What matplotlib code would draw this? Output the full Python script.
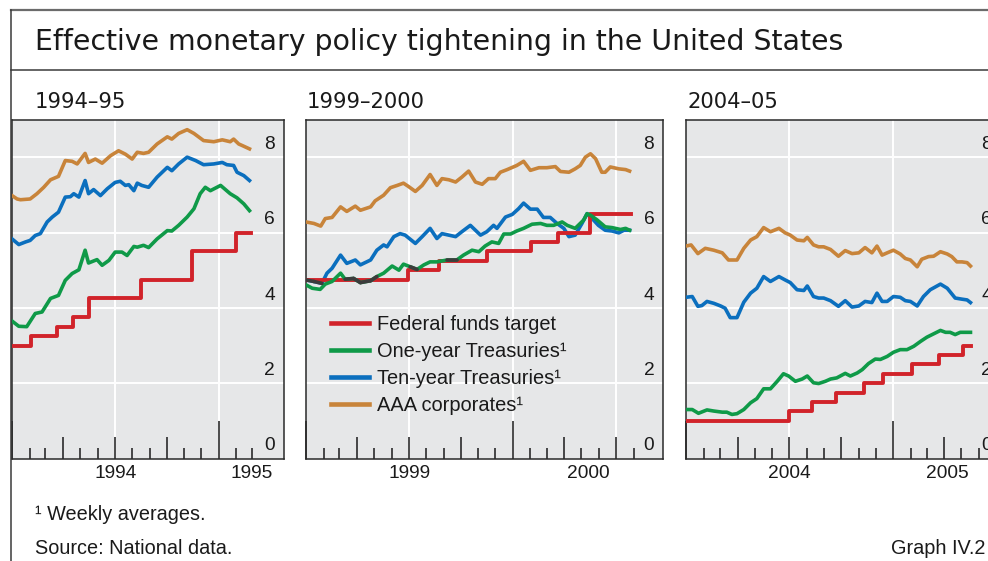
import numpy as np
import matplotlib
matplotlib.use('Agg')
import matplotlib.pyplot as plt
from matplotlib.lines import Line2D
import matplotlib.transforms as mtransforms

plt.rcParams['font.family'] = ['Liberation Sans', 'DejaVu Sans']

# ---------------- data (days since 1 January of the panel's first year) -------------
# Panel 1994-95
p1_aaa_days = [0, 9, 15, 32, 44, 56, 68, 82, 94, 106, 115, 129, 135, 147, 159, 174, 188, 200, 212,
               221, 232, 241, 256, 274, 282, 294, 309, 321, 338, 356, 371, 385, 391, 400, 406, 419]
p1_aaa = [6.98, 6.89, 6.87, 6.89, 7.03, 7.2, 7.4, 7.49, 7.91, 7.89, 7.82, 8.1, 7.86, 7.95, 7.84, 8.04,
          8.17, 8.08, 7.95, 8.13, 8.1, 8.13, 8.35, 8.54, 8.48, 8.63, 8.73, 8.63, 8.44, 8.41, 8.46,
          8.41, 8.48, 8.35, 8.31, 8.22]
p1_ten_days = [0, 12, 24, 32, 41, 50, 62, 71, 82, 94, 103, 109, 118, 129, 135, 144, 156, 168, 182,
               191, 200, 206, 215, 221, 229, 241, 256, 274, 282, 294, 309, 324, 338, 356, 371, 379,
               391, 397, 409, 419]
p1_ten = [5.83, 5.68, 5.75, 5.79, 5.92, 5.97, 6.28, 6.41, 6.54, 6.94, 6.95, 7.03, 6.94, 7.38, 7.03,
          7.14, 6.98, 7.16, 7.33, 7.36, 7.25, 7.27, 7.11, 7.31, 7.25, 7.2, 7.47, 7.73, 7.64, 7.82,
          8.0, 7.91, 7.8, 7.82, 7.86, 7.8, 7.78, 7.6, 7.51, 7.38]
p1_one_days = [0, 12, 26, 41, 53, 68, 82, 94, 106, 118, 129, 135, 150, 159, 171, 182, 194, 203, 215,
               221, 232, 241, 256, 274, 282, 294, 309, 321, 332, 341, 350, 368, 385, 397, 409, 419]
p1_one = [3.65, 3.51, 3.5, 3.85, 3.89, 4.25, 4.33, 4.73, 4.91, 5.01, 5.53, 5.19, 5.28, 5.13, 5.26,
          5.48, 5.48, 5.39, 5.63, 5.61, 5.66, 5.6, 5.83, 6.05, 6.04, 6.19, 6.41, 6.63, 7.03, 7.2,
          7.11, 7.25, 7.03, 6.92, 6.76, 6.58]
p1_fed_days = [0, 34, 80, 107, 136, 227, 318, 396, 422]
p1_fed = [3.0, 3.25, 3.5, 3.75, 4.25, 4.75, 5.5, 6.0, 6.0]

# Panel 1999-2000
p2_aaa_days = [0, 14, 26, 34, 46, 61, 72, 87, 96, 114, 122, 137, 149, 161, 172, 181, 193, 205, 219,
               231, 240, 252, 264, 275, 287, 299, 311, 322, 334, 343, 355, 372, 384, 396, 411, 425,
               440, 449, 464, 475, 484, 493, 502, 511, 522, 528, 537, 552, 564, 571]
p2_aaa = [6.28, 6.24, 6.17, 6.37, 6.4, 6.68, 6.56, 6.7, 6.59, 6.68, 6.84, 6.99, 7.19, 7.25, 7.31,
          7.22, 7.09, 7.25, 7.54, 7.25, 7.43, 7.4, 7.34, 7.47, 7.63, 7.34, 7.28, 7.43, 7.43, 7.6,
          7.67, 7.78, 7.89, 7.65, 7.72, 7.72, 7.75, 7.62, 7.6, 7.69, 7.78, 8.0, 8.09, 7.96, 7.6,
          7.6, 7.74, 7.69, 7.67, 7.63]
p2_ten_days = [0, 14, 28, 37, 46, 61, 72, 87, 96, 114, 125, 137, 143, 155, 166, 175, 193, 205, 219,
               231, 240, 252, 264, 275, 290, 308, 319, 331, 337, 352, 364, 375, 384, 396, 408, 419,
               431, 443, 455, 464, 475, 487, 496, 505, 516, 528, 540, 552, 561, 571]
p2_ten = [4.74, 4.7, 4.65, 4.92, 5.05, 5.4, 5.18, 5.27, 5.14, 5.27, 5.53, 5.67, 5.62, 5.89, 5.97,
          5.93, 5.71, 5.89, 6.11, 5.84, 5.97, 5.93, 5.89, 6.02, 6.19, 5.93, 6.02, 6.19, 6.11, 6.41,
          6.48, 6.63, 6.78, 6.62, 6.62, 6.4, 6.4, 6.24, 6.11, 5.89, 5.93, 6.24, 6.5, 6.37, 6.19,
          6.06, 6.04, 5.99, 6.06, 6.06]
p2_one_days = [0, 11, 25, 34, 46, 61, 69, 84, 96, 114, 125, 137, 152, 164, 172, 184, 196, 208, 219,
               231, 249, 266, 278, 293, 305, 316, 328, 340, 349, 361, 372, 384, 399, 414, 425, 437,
               452, 461, 475, 490, 496, 502, 514, 528, 540, 555, 564, 571]
p2_one = [4.61, 4.52, 4.49, 4.63, 4.7, 4.92, 4.76, 4.78, 4.67, 4.72, 4.83, 4.92, 5.11, 5.0, 5.16,
          5.09, 5.02, 5.14, 5.22, 5.22, 5.27, 5.27, 5.4, 5.53, 5.49, 5.64, 5.75, 5.71, 5.96, 5.96,
          6.04, 6.11, 6.22, 6.24, 6.19, 6.19, 6.28, 6.19, 6.11, 6.33, 6.5, 6.46, 6.33, 6.15, 6.13,
          6.08, 6.11, 6.06]
p2_fed_days = [0, 180, 235, 319, 397, 445, 501, 573]
p2_fed = [4.75, 5.0, 5.25, 5.5, 5.75, 6.0, 6.5, 6.5]

# Panel 2004-05
p3_aaa_days = [0, 9, 21, 34, 49, 64, 75, 90, 102, 114, 125, 137, 149, 164, 175, 184, 196, 208, 214,
               225, 234, 243, 255, 269, 281, 293, 305, 316, 328, 337, 346, 355, 366, 378, 387, 396,
               408, 416, 428, 437, 449, 461, 469, 478, 487, 496, 502]
p3_aaa = [5.64, 5.67, 5.44, 5.58, 5.53, 5.46, 5.27, 5.27, 5.58, 5.8, 5.89, 6.13, 6.02, 6.11, 5.99,
          5.93, 5.8, 5.78, 5.87, 5.67, 5.62, 5.62, 5.55, 5.37, 5.52, 5.44, 5.46, 5.6, 5.46, 5.64,
          5.4, 5.46, 5.53, 5.43, 5.31, 5.27, 5.09, 5.29, 5.36, 5.37, 5.49, 5.43, 5.36, 5.22, 5.22,
          5.2, 5.11]
p3_ten_days = [0, 11, 21, 28, 37, 49, 61, 69, 78, 90, 102, 114, 125, 137, 149, 164, 175, 184, 196,
               208, 214, 225, 234, 243, 255, 269, 281, 293, 305, 316, 328, 337, 346, 355, 366, 378,
               387, 396, 408, 419, 431, 449, 461, 475, 487, 496, 502]
p3_ten = [4.28, 4.3, 4.04, 4.06, 4.17, 4.12, 4.05, 3.99, 3.74, 3.74, 4.15, 4.39, 4.52, 4.83, 4.7,
          4.83, 4.74, 4.67, 4.48, 4.46, 4.58, 4.3, 4.26, 4.26, 4.19, 4.04, 4.19, 4.02, 4.05, 4.17,
          4.14, 4.39, 4.17, 4.17, 4.3, 4.28, 4.19, 4.17, 4.05, 4.3, 4.48, 4.63, 4.52, 4.26, 4.23,
          4.21, 4.14]
p3_one_days = [0, 11, 22, 37, 49, 64, 72, 81, 90, 102, 114, 125, 137, 149, 161, 172, 181, 193, 205,
               214, 225, 234, 246, 255, 266, 281, 290, 302, 311, 322, 334, 343, 355, 366, 378, 390,
               402, 414, 425, 437, 449, 458, 466, 475, 484, 493, 502]
p3_one = [1.3, 1.3, 1.2, 1.29, 1.26, 1.23, 1.23, 1.17, 1.19, 1.3, 1.48, 1.59, 1.85, 1.85, 2.05,
          2.25, 2.19, 2.05, 2.11, 2.19, 2.01, 1.99, 2.05, 2.11, 2.14, 2.26, 2.19, 2.27, 2.36, 2.52,
          2.64, 2.63, 2.71, 2.82, 2.89, 2.89, 2.98, 3.11, 3.22, 3.31, 3.4, 3.35, 3.35, 3.29, 3.35,
          3.35, 3.35]
p3_fed_days = [0, 181, 222, 264, 314, 348, 398, 446, 488, 503]
p3_fed = [1.0, 1.25, 1.5, 1.75, 2.0, 2.25, 2.5, 2.75, 3.0, 3.0]

panel_titles = ['1994\u201395', '1999\u20132000', '2004\u201305']
panel_start_years = [1994, 1999, 2004]
panel_xmax = [479, 630, 555]          # axis extent in days (incl. room for y labels)
y_ticks = [0, 2, 4, 6, 8]
series_labels = ['Federal funds target', 'One-year Treasuries\u00b9',
                 'Ten-year Treasuries\u00b9', 'AAA corporates\u00b9']

title = 'Effective monetary policy tightening in the United States'
footnote = '\u00b9 Weekly averages.'
source = 'Source: National data.'
graph_id = 'Graph IV.2'

# ---------------- styling ----------------
RED = '#d1232a'
GREEN = '#0f9a48'
BLUE = '#0b6fbe'
ORANGE = '#c8843a'
OVERPRINT = '#3c3c3c'
BG = '#e6e7e8'
TXT = '#1a1a1a'
HEAD_FONT = ['DejaVu Sans']

W, H = 988, 561
fig = plt.figure(figsize=(W / 100, H / 100), dpi=100)

def px_axes(left, top, right, bottom):
    return fig.add_axes([left / W, 1 - bottom / H, (right - left) / W, (bottom - top) / H])

panel_boxes = [(12, 119.5, 283.5), (306, 119.5, 663), (686, 119.5, 686 + 555 * 0.5667)]
AX_BOTTOM = 458.5
YMAX = 9.0
px_per_unit = (AX_BOTTOM - 119.5) / YMAX

panel_data = [
    (p1_fed_days, p1_fed, p1_one_days, p1_one, p1_ten_days, p1_ten, p1_aaa_days, p1_aaa),
    (p2_fed_days, p2_fed, p2_one_days, p2_one, p2_ten_days, p2_ten, p2_aaa_days, p2_aaa),
    (p3_fed_days, p3_fed, p3_one_days, p3_one, p3_ten_days, p3_ten, p3_aaa_days, p3_aaa),
]

def fed_at(fed_d, fed_v, days):
    idx = np.searchsorted(np.asarray(fed_d), np.asarray(days), side='right') - 1
    idx = np.clip(idx, 0, len(fed_v) - 1)
    return np.asarray(fed_v)[idx]

def overprint(ax, d, v, fed_d, fed_v, z):
    # where a series sits on top of the red step line the print shows a dark line
    d = np.asarray(d, float)
    v = np.asarray(v, float)
    near = np.abs(v - fed_at(fed_d, fed_v, d)) <= 0.105
    for k in range(len(d) - 1):
        if near[k] and near[k + 1]:
            ax.plot(d[k:k + 2], v[k:k + 2], color=OVERPRINT, lw=2.6, zorder=z,
                    solid_capstyle='round')

handles = []
for i, (box, data) in enumerate(zip(panel_boxes, panel_data)):
    left, top, right = box
    ax = px_axes(left, top, right, AX_BOTTOM)
    ax.set_facecolor(BG)
    xmax = panel_xmax[i]
    ax.set_xlim(0, xmax)
    ax.set_ylim(0, YMAX)
    ax.set_xticks([])
    ax.set_yticks([])
    for sp in ax.spines.values():
        sp.set_color('#2a2a2a')
        sp.set_linewidth(1.1)

    y0 = panel_start_years[i]
    start = np.datetime64(f'{y0}-01-01')
    fed_d, fed_v, one_d, one_v, ten_d, ten_v, aaa_d, aaa_v = data
    data_end = max(fed_d)

    for v in y_ticks[1:]:
        ax.axhline(v, color='white', lw=1.4, zorder=1)
    m = 0
    while True:
        d = np.datetime64(f'{y0}-01', 'M') + m
        day = int((d.astype('datetime64[D]') - start).astype(int))
        if day > data_end + 31:
            break
        month = int(str(d)[5:7])
        if month in (1, 7) and day > 0:
            ax.axvline(day, color='white', lw=1.4, zorder=1)
        if month == 1:
            hpx = 38
        elif month in (4, 7, 10):
            hpx = 22
        else:
            hpx = 11
        ax.plot([day, day], [0, hpx / px_per_unit], color='#1a1a1a', lw=1.1,
                solid_capstyle='butt', zorder=2, clip_on=False)
        m += 1

    l_aaa, = ax.plot(aaa_d, aaa_v, color=ORANGE, lw=2.6, zorder=3, solid_joinstyle='round')
    l_ten, = ax.plot(ten_d, ten_v, color=BLUE, lw=2.6, zorder=4, solid_joinstyle='round')
    l_fed, = ax.step(fed_d, fed_v, where='post', color=RED, lw=2.8, zorder=5)
    l_one, = ax.plot(one_d, one_v, color=GREEN, lw=2.6, zorder=6, solid_joinstyle='round')
    overprint(ax, ten_d, ten_v, fed_d, fed_v, 7)
    overprint(ax, one_d, one_v, fed_d, fed_v, 7)
    if i == 1:
        handles = [l_fed, l_one, l_ten, l_aaa]

    bt = mtransforms.blended_transform_factory(ax.transAxes, ax.transData)
    ot = mtransforms.offset_copy(bt, fig=fig, x=-14, y=8, units='dots')
    for v in y_ticks:
        ax.text(1.0, v, str(v), transform=ot, ha='center', va='baseline',
                fontsize=13.8, color=TXT, clip_on=False)

    yr_end = int((np.datetime64(f'{y0 + 1}-01-01') - start).astype(int))
    for lab, (a, b) in zip([str(y0), str(y0 + 1)], [(0, yr_end), (yr_end, xmax)]):
        xc = (a + b) / 2
        ax.text(xc, 0, lab, transform=mtransforms.offset_copy(
            mtransforms.blended_transform_factory(ax.transData, ax.transAxes),
            fig=fig, x=0, y=-20, units='dots'),
            ha='center', va='baseline', fontsize=13.8, color=TXT, clip_on=False)

    fig.text((left + 23) / W if i == 0 else (left + 1) / W, 1 - 108 / H, panel_titles[i],
             fontsize=15.2, color=TXT, va='baseline', ha='left', family=HEAD_FONT)

    if i == 1:
        leg = ax.legend(handles, series_labels, loc='upper left',
                        bbox_to_anchor=((331 - left) / (right - left),
                                        (AX_BOTTOM - 314.5) / (AX_BOTTOM - top)),
                        frameon=False, fontsize=14.4, handlelength=1.9,
                        handletextpad=0.4, labelspacing=0.41, borderpad=0,
                        borderaxespad=0)
        for lh in leg.get_lines():
            lh.set_linewidth(3.3)
        for t in leg.get_texts():
            t.set_color(TXT)

fig.add_artist(Line2D([11 / W, 1], [1 - 10 / H, 1 - 10 / H], color='#6b6b6b', lw=1.6,
                      transform=fig.transFigure))
fig.add_artist(Line2D([11 / W, 11 / W], [0, 1 - 10 / H], color='#3a3a3a', lw=1.1,
                      transform=fig.transFigure))
fig.add_artist(Line2D([11 / W, 1], [1 - 70 / H, 1 - 70 / H], color='#3a3a3a', lw=1.1,
                      transform=fig.transFigure))

fig.text(35 / W, 1 - 50 / H, title, fontsize=20.4, color=TXT, va='baseline', ha='left',
         family=HEAD_FONT)
fig.text(35 / W, 1 - 520 / H, footnote, fontsize=14.3, color=TXT, va='baseline', ha='left')
fig.text(35 / W, 1 - 554 / H, source, fontsize=14.3, color=TXT, va='baseline', ha='left')
fig.text(985 / W, 1 - 554 / H, graph_id, fontsize=14.3, color=TXT, va='baseline', ha='right')

fig.savefig('out.png', dpi=100)
